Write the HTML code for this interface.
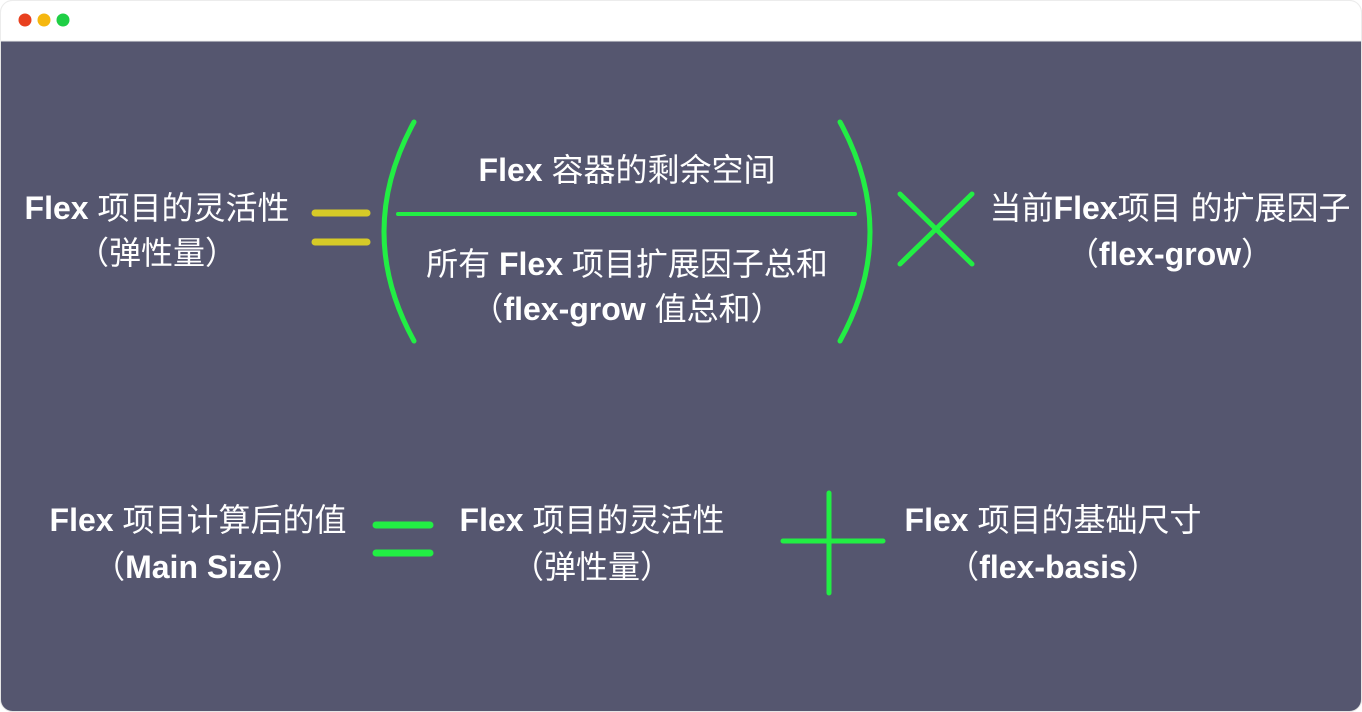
<!DOCTYPE html>
<html><head><meta charset="utf-8"><style>
html,body{margin:0;padding:0;background:#fff;}
svg{display:block;}
text{font-family:"Liberation Sans","Noto Sans CJK SC",sans-serif;fill:#fff;font-size:32px;}
.b{font-weight:bold;}
</style></head><body>
<svg width="1362" height="712" viewBox="0 0 1362 712" xmlns="http://www.w3.org/2000/svg">
<rect x="0.5" y="0.5" width="1361" height="711" rx="12" fill="#55566f" stroke="#e6e6e6"/>
<path d="M12.5 0.5 H1349.5 A12 12 0 0 1 1361.5 12.5 V41 H0.5 V12.5 A12 12 0 0 1 12.5 0.5 Z" fill="#fff" stroke="#ececec"/>
<circle cx="25" cy="20" r="6.5" fill="#e8401f"/>
<circle cx="44" cy="20" r="6.5" fill="#f5b70f"/>
<circle cx="63" cy="20" r="6.5" fill="#1fcf45"/>

<g text-anchor="middle" dominant-baseline="central">
<text x="157" y="208"><tspan class="b">Flex</tspan> 项目的灵活性</text>
<text x="157" y="253">（弹性量）</text>
<text x="627" y="170"><tspan class="b">Flex</tspan> 容器的剩余空间</text>
<text x="627" y="264">所有 <tspan class="b">Flex</tspan> 项目扩展因子总和</text>
<text x="627" y="309">（<tspan class="b">flex-grow</tspan> 值总和）</text>
<text x="1170" y="208">当前<tspan class="b">Flex</tspan>项目 的扩展因子</text>
<text x="1170" y="254">（<tspan class="b">flex-grow</tspan>）</text>
<text x="198" y="520"><tspan class="b">Flex</tspan> 项目计算后的值</text>
<text x="198" y="567">（<tspan class="b">Main Size</tspan>）</text>
<text x="592" y="520"><tspan class="b">Flex</tspan> 项目的灵活性</text>
<text x="592" y="567">（弹性量）</text>
<text x="1053" y="520"><tspan class="b">Flex</tspan> 项目的基础尺寸</text>
<text x="1053" y="567">（<tspan class="b">flex-basis</tspan>）</text>
</g>

<g stroke-linecap="round" fill="none">
<line x1="315" y1="213" x2="367" y2="213" stroke="#d6ca27" stroke-width="7"/>
<line x1="315" y1="242" x2="367" y2="242" stroke="#d6ca27" stroke-width="7"/>
<g stroke="#22ee44">
<path d="M414 122 Q354 232 414 341" stroke-width="5"/>
<path d="M840 122 Q900 232 840 341" stroke-width="5"/>
<line x1="398" y1="214" x2="855" y2="214" stroke-width="4"/>
<line x1="900" y1="194" x2="972" y2="264" stroke-width="5"/>
<line x1="900" y1="264" x2="972" y2="194" stroke-width="5"/>
<line x1="376" y1="525" x2="430" y2="525" stroke-width="7"/>
<line x1="376" y1="553" x2="430" y2="553" stroke-width="7"/>
<line x1="783" y1="541" x2="883" y2="541" stroke-width="5"/>
<line x1="829" y1="493" x2="829" y2="593" stroke-width="5"/>
</g>
</g>
</svg>
</body></html>
